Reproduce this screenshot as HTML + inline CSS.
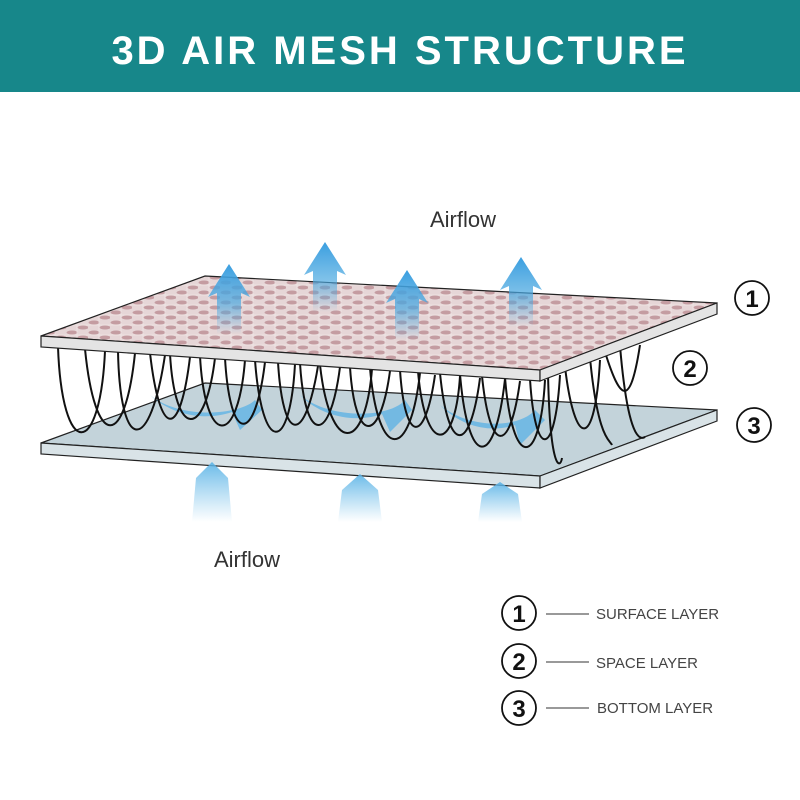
<!DOCTYPE html>
<html><head><meta charset="utf-8"><style>
html,body{margin:0;padding:0;background:#fff;width:800px;height:800px;overflow:hidden}
</style></head><body>
<svg width="800" height="800" viewBox="0 0 800 800" xmlns="http://www.w3.org/2000/svg" font-family="Liberation Sans, sans-serif">
<defs>
<pattern id="knit" width="22" height="10" patternUnits="userSpaceOnUse">
<rect width="22" height="10" fill="#e6d6d7"/>
<ellipse cx="6" cy="2.5" rx="5.5" ry="2" fill="#c49ca1"/>
<ellipse cx="17" cy="7.5" rx="5.5" ry="2" fill="#c49ca1"/>
<path d="M0,5 H22 M11,0 V10" stroke="#f4ecec" stroke-width="0.6"/>
</pattern>
<linearGradient id="up" x1="0" y1="1" x2="0" y2="0">
<stop offset="0" stop-color="#4aa8e0" stop-opacity="0"/>
<stop offset="0.45" stop-color="#4aa8e0" stop-opacity="0.7"/>
<stop offset="1" stop-color="#3a9ee0" stop-opacity="1"/>
</linearGradient>
<linearGradient id="up2" x1="0" y1="1" x2="0" y2="0">
<stop offset="0" stop-color="#6bbbe8" stop-opacity="0"/>
<stop offset="1" stop-color="#5ab3e6" stop-opacity="0.9"/>
</linearGradient>
<g id="arr"><path d="M0,0 L21,33 L12,29 L12,70 L-12,70 L-12,29 L-21,33 Z" fill="url(#up)"/></g>
</defs>
<rect x="0" y="0" width="800" height="92" fill="#17878a"/>
<text x="400" y="64" text-anchor="middle" fill="#fff" font-size="40" font-weight="bold" letter-spacing="3">3D AIR MESH STRUCTURE</text>

<!-- bottom plate -->
<polygon points="205,383 717,410 540,476 41,443" fill="#c3d3da" stroke="#222" stroke-width="1.2"/>
<polygon points="41,443 540,476 540,488 41,454" fill="#d9e3e7" stroke="#222" stroke-width="1.2"/>
<polygon points="540,476 717,410 717,421 540,488" fill="#d9e3e7" stroke="#222" stroke-width="1.2"/>

<!-- swirl arrows -->
<g fill="#59b1e5" opacity="0.75">
<path d="M150,395 C180,420 240,415 255,400 L262,410 L240,430 L232,412 C210,420 175,418 150,395Z"/>
<path d="M300,395 C330,420 390,418 405,400 L412,410 L390,432 L382,414 C360,422 325,420 300,395Z"/>
<path d="M440,405 C470,430 520,428 535,410 L545,420 L520,445 L515,425 C495,432 465,430 440,405Z"/>
</g>

<!-- fibers -->
<g fill="none" stroke="#111" stroke-width="2">
<path d="M58,347 C62,460 100,460 105,351"/>
<path d="M85,349 C95,450 125,450 135,353"/>
<path d="M118,351 C120,455 150,455 165,355"/>
<path d="M150,353 C160,440 180,440 190,357"/>
<path d="M170,354 C175,440 205,440 215,358"/>
<path d="M200,356 C205,448 238,448 245,360"/>
<path d="M225,358 C230,445 255,445 265,362"/>
<path d="M255,360 C262,455 290,455 295,364"/>
<path d="M278,362 C283,445 305,445 318,366"/>
<path d="M300,363 C305,445 330,445 340,367"/>
<path d="M320,365 C330,455 365,455 372,369"/>
<path d="M350,367 C355,445 380,445 390,371"/>
<path d="M370,368 C378,462 410,462 420,373"/>
<path d="M400,370 C405,445 425,445 435,375"/>
<path d="M418,371 C425,455 455,455 460,376"/>
<path d="M440,373 C448,455 470,455 480,378"/>
<path d="M460,374 C468,470 495,470 505,379"/>
<path d="M482,376 C490,455 510,455 520,381"/>
<path d="M505,377 C512,470 540,470 545,380"/>
<path d="M530,379 C535,460 555,460 560,375"/>
<path d="M548,373 C550,470 560,470 562,458"/>
<path d="M565,367 C575,450 595,450 600,360"/>
<path d="M590,358 C598,440 610,440 612,445"/>
<path d="M620,346 C628,440 640,440 645,437"/>
<path d="M605,352 C620,400 630,410 640,345"/>
</g>

<!-- top plate -->
<polygon points="205,276 717,303 540,370 41,336" fill="url(#knit)" stroke="#222" stroke-width="1.2"/>
<polygon points="41,336 540,370 540,381 41,347" fill="#e4e4e4" stroke="#222" stroke-width="1.2"/>
<polygon points="540,370 717,303 717,314 540,381" fill="#e4e4e4" stroke="#222" stroke-width="1.2"/>

<!-- top arrows -->
<use href="#arr" x="229" y="264"/>
<use href="#arr" x="325" y="242"/>
<use href="#arr" x="407" y="270"/>
<use href="#arr" x="521" y="257"/>

<!-- bottom arrows -->
<path d="M196,478 L212,462 L228,478 L232,522 L192,522Z" fill="url(#up2)"/>
<path d="M342,490 L360,474 L378,490 L382,522 L338,522Z" fill="url(#up2)"/>
<path d="M482,494 L500,482 L518,494 L522,522 L478,522Z" fill="url(#up2)"/>

<text x="430" y="227" font-size="22" fill="#333">Airflow</text>
<text x="214" y="567" font-size="22" fill="#333">Airflow</text>

<g fill="none" stroke="#111" stroke-width="1.8">
<circle cx="752" cy="298" r="17"/>
<circle cx="690" cy="368" r="17"/>
<circle cx="754" cy="425" r="17"/>
<circle cx="519" cy="613" r="17"/>
<circle cx="519" cy="661" r="17"/>
<circle cx="519" cy="708" r="17"/>
</g>
<g font-size="24" fill="#111" text-anchor="middle" font-weight="bold">
<text x="752" y="307">1</text>
<text x="690" y="377">2</text>
<text x="754" y="434">3</text>
<text x="519" y="622">1</text>
<text x="519" y="670">2</text>
<text x="519" y="717">3</text>
</g>
<g stroke="#333" stroke-width="1">
<line x1="546" y1="614" x2="589" y2="614"/>
<line x1="546" y1="662" x2="589" y2="662"/>
<line x1="546" y1="708" x2="589" y2="708"/>
</g>
<g font-size="15" fill="#444">
<text x="596" y="619">SURFACE LAYER</text>
<text x="596" y="668">SPACE LAYER</text>
<text x="597" y="713">BOTTOM LAYER</text>
</g>
</svg>
</body></html>
